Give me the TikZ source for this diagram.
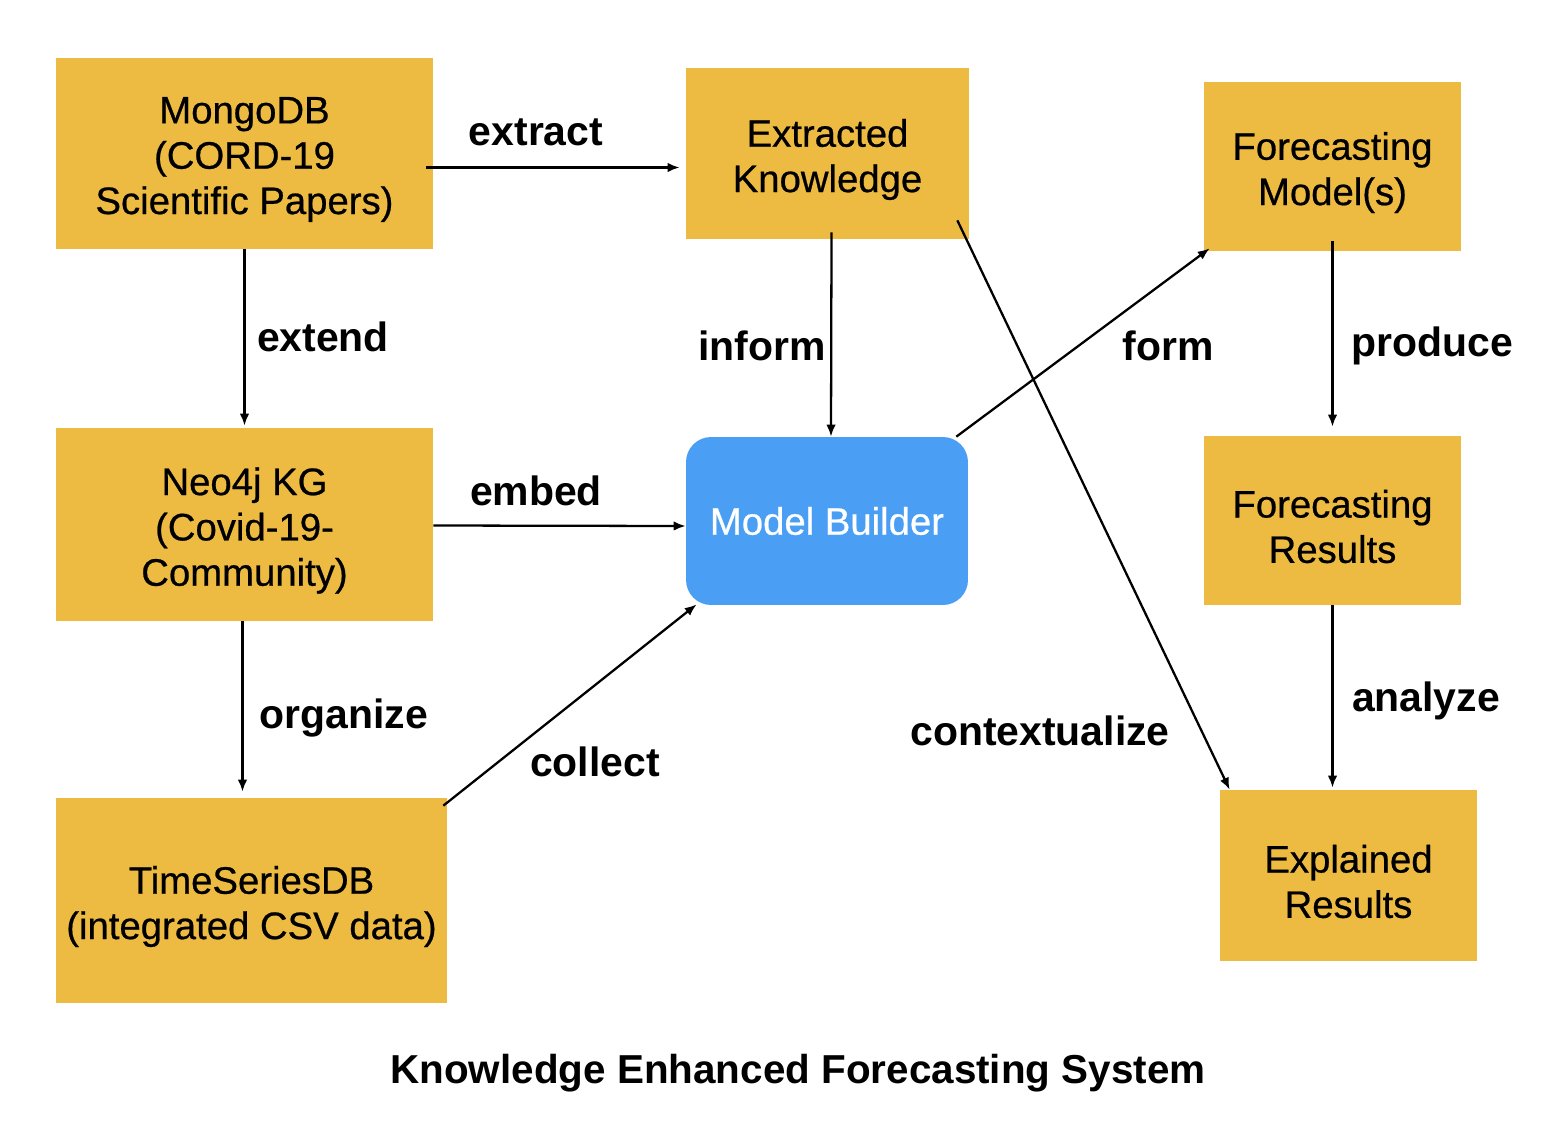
\documentclass[tikz,border=0pt]{standalone}
\usepackage{fontspec}
\setmainfont{Liberation Sans}
\newfontfamily\boxfont[FakeBold=0.6]{Liberation Sans}
\usetikzlibrary{arrows.meta}
\definecolor{storeyellow}{HTML}{EDBB42}
\definecolor{builderblue}{HTML}{4A9FF5}

\begin{document}
\begin{tikzpicture}[x=0.02cm, y=-0.02cm,
  store/.style = {shape=rectangle, fill=storeyellow, inner sep=0pt},
  boxtext/.style = {align=center, inner sep=0pt, yshift=-0.12cm,
    font=\boxfont\fontsize{21.8}{25.8}\selectfont},
  builder/.style = {shape=rectangle, rounded corners=0.5cm, fill=builderblue,
    align=center, inner sep=0pt, text=white, font=\boxfont\fontsize{21.8}{25.8}\selectfont},
  linktext/.style = {font=\bfseries\fontsize{23.3}{27}\selectfont, inner sep=0pt},
  link/.style = {draw, line width=1.3pt, -{Latex[length=0.24cm,width=0.19cm]}}]
  \useasboundingbox (0,0) rectangle (1546,1120);

  % boxes
  \node[store, minimum width=7.54cm, minimum height=3.82cm,
    label={[boxtext]center:{MongoDB\\(CORD-19\\Scientific Papers)}}] (mongo) at (244.5,153.5) {};
  \node[store, minimum width=5.66cm, minimum height=3.42cm,
    label={[boxtext]center:{Extracted\\Knowledge}}] (extracted) at (827.5,153.5) {};
  \node[store, minimum width=5.14cm, minimum height=3.38cm,
    label={[boxtext]center:{Forecasting\\Model(s)}}] (fmodel) at (1332.5,166.5) {};
  \node[store, minimum width=7.54cm, minimum height=3.86cm,
    label={[boxtext]center:{Neo4j KG\\(Covid-19-\\Community)}}] (neo) at (244.5,524.5) {};
  \node[builder, minimum width=5.64cm, minimum height=3.36cm] (mbuilder) at (827,521)
    {Model Builder};
  \node[store, minimum width=5.14cm, minimum height=3.38cm,
    label={[boxtext]center:{Forecasting\\Results}}] (fresults) at (1332.5,520.5) {};
  \node[store, minimum width=7.82cm, minimum height=4.1cm,
    label={[boxtext]center:{TimeSeriesDB\\(integrated CSV data)}}] (tsdb) at (251.5,900.5) {};
  \node[store, minimum width=5.14cm, minimum height=3.42cm,
    label={[boxtext]center:{Explained\\Results}}] (explained) at (1348.5,875.5) {};

  % connectors
  \path[link, shorten >=0.12cm] ([xshift=-0.14cm,yshift=-0.28cm]mongo.east) -- ([yshift=-0.28cm]extracted.west);
  \path[link, shorten >=0.04cm] (mongo.south) -- (neo.north);
  \path[link, shorten <=-0.14cm] ([xshift=0.08cm]extracted.south) -- ([xshift=0.08cm]mbuilder.north);
  \path[link] ([xshift=-0.24cm]mbuilder.north east) -- ([xshift=0.12cm,yshift=0.06cm]fmodel.south west);
  \path[link, shorten <=-0.2cm, shorten >=0.18cm] (fmodel.south) -- (fresults.north);
  \path[link] ([yshift=-0.02cm]neo.east) -- ([yshift=-0.1cm]mbuilder.west);
  \path[link, shorten >=0.12cm] ([xshift=-0.04cm]neo.south) -- ([xshift=-0.04cm]neo.south |- tsdb.north);
  \path[link] ([xshift=-0.08cm,yshift=-0.16cm]tsdb.north east) -- ([xshift=0.22cm,yshift=0.02cm]mbuilder.south west);
  \path[link] ([xshift=-0.24cm,yshift=0.38cm]extracted.south east) -- ([xshift=0.2cm]explained.north west);
  \path[link, shorten >=0.04cm] (fresults.south) -- (fresults.south |- explained.north);

  % connector texts
  \node[linktext] (extractlbl) at (536,132) {extract};
  \node[linktext] (extendlbl) at (323,337) {extend};
  \node[linktext] (informlbl) at (762,346) {inform};
  \node[linktext] (formlbl) at (1168,346) {form};
  \node[linktext] (producelbl) at (1432,346) {produce};
  \node[linktext] (embedlbl) at (536,491) {embed};
  \node[linktext] (organizelbl) at (344,718) {organize};
  \node[linktext] (collectlbl) at (595,762) {collect};
  \node[linktext] (contextlbl) at (1040,731) {contextualize};
  \node[linktext] (analyzelbl) at (1426,701) {analyze};

  \node[font=\bfseries\fontsize{23}{27}\selectfont, inner sep=0pt] (title) at (798,1073)
    {Knowledge Enhanced Forecasting System};
\end{tikzpicture}
\end{document}
